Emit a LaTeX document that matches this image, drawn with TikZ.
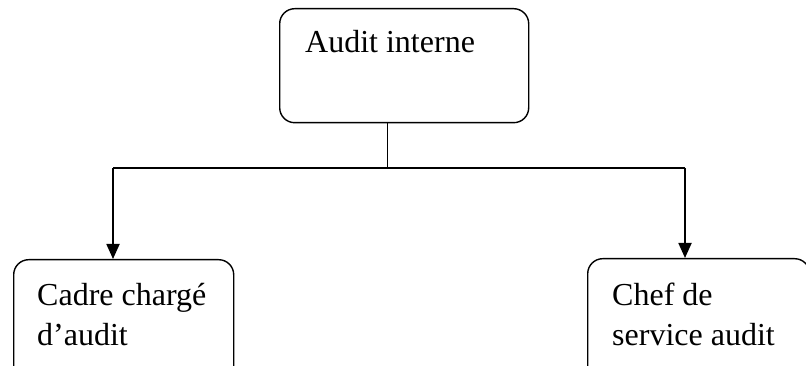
\documentclass[tikz,border=0pt]{standalone}
\usepackage{fontspec}
\setmainfont{Liberation Serif}
\usetikzlibrary{arrows.meta}
\tikzset{
  boxstyle/.style={draw, line width=1.4pt, rounded corners=15pt, inner sep=0pt},
  lbl/.style={anchor=base west, inner sep=0pt, align=left, font=\fontsize{32}{40}\selectfont},
  conn/.style={line width=1.8pt},
  arr/.style={line width=1.8pt, -{Triangle[width=13pt,length=15pt]}}
}
\begin{document}
\begin{tikzpicture}[x=1pt,y=-1pt]
\useasboundingbox (0,0) rectangle (806,366);
\clip (0,0) rectangle (806,366);
\node[boxstyle, minimum width=249pt, minimum height=114pt, anchor=north west] (top) at (279,8) {};
\node[boxstyle, minimum width=220pt, minimum height=130pt, anchor=north west] (L) at (13,259) {};
\node[boxstyle, minimum width=222pt, minimum height=130pt, anchor=north west] (R) at (587,258) {};
\node[lbl] (ttop) at (305,53) {Audit interne};
\node[lbl] (tL) at (37,345) {Cadre chargé\\d’audit};
\node[lbl] (tR) at (612,345) {Chef de\\service audit};
\coordinate (j) at (387,168);
\coordinate (la) at (113,168);
\coordinate (ra) at (685,168);
\draw[line width=1pt] (top.south -| j) -- (j);
\draw[conn] (la) -- (ra);
\draw[arr] (la) -- (la |- L.north);
\draw[arr] (ra) -- (ra |- R.north);
\end{tikzpicture}
\end{document}
